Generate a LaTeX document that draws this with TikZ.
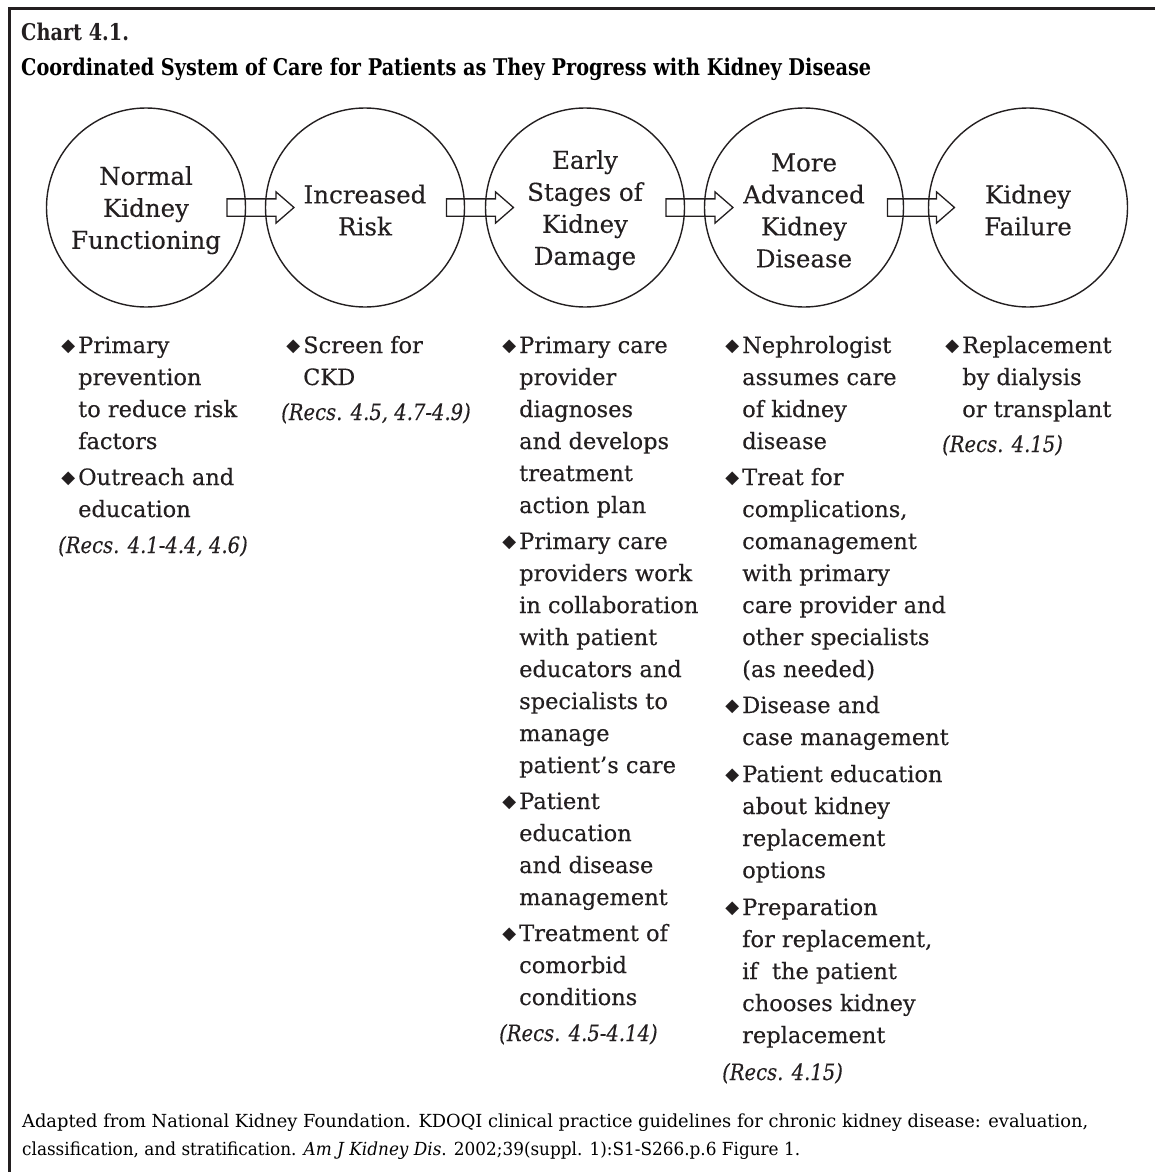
\documentclass[tikz,border=0pt]{standalone}
\usepackage{fontspec}
\usepackage{graphicx}
\setmainfont{DejaVu Serif}[UprightFeatures={FakeBold=0.3},ItalicFeatures={FakeBold=0.3}]
\newfontfamily\fnfont{DejaVu Serif}
\newfontfamily\symf{DejaVu Sans}
\usetikzlibrary{shapes.arrows,calc}
\definecolor{ink}{RGB}{35,31,32}
\newcommand{\bul}{\llap{\raisebox{1.5pt}{\symf\fontsize{18}{18}\selectfont ◆}\hspace{3pt}}}
\newcommand{\rec}[1]{\hspace*{-20pt}\scalebox{0.87}[1]{\textit{#1}}}
\newcommand{\up}{\rule{0pt}{24pt}}
\newsavebox\tlbox
\newsavebox\fnbox
\newsavebox\fnboxb
\begin{document}
\sbox\tlbox{\fontsize{23}{23}\selectfont\bfseries Coordinated System of Care for Patients as They Progress with Kidney Disease}%
\sbox\fnbox{\fnfont\fontsize{18}{18}\selectfont Adapted from National Kidney Foundation. KDOQI clinical practice guidelines for chronic kidney disease: evaluation,}%
\sbox\fnboxb{\fnfont\fontsize{18}{18}\selectfont classification, and stratification. \textit{Am J Kidney Dis}. 2002;39(suppl. 1):S1-S266.p.6 Figure 1.}%
\pgfmathsetmacro\tsx{850/\wd\tlbox}%
\pgfmathsetmacro\fsx{1066/\wd\fnbox}%
\pgfmathsetmacro\fsxb{778/\wd\fnboxb}%
\begin{tikzpicture}[x=1pt,y=-1pt,
  circ/.style={draw=ink, circle, minimum size=199pt, inner sep=0pt, line width=1.4pt,
    font=\fontsize{24.5}{32}\selectfont, align=center, text=ink},
  flow/.style={single arrow, draw=ink, line width=1.3pt, minimum height=67pt,
    single arrow head extend=7pt, single arrow tip angle=82, inner xsep=0pt,
    inner ysep=8pt, text height=0pt, text depth=0pt},
  col/.style={anchor=base west, inner sep=0pt, align=left, text=ink,
    font=\fontsize{22.5}{32}\selectfont},
  plain/.style={anchor=base west, inner sep=0pt, text=ink}]
\useasboundingbox (0,0) rectangle (1155,1172);
% frame
\draw[ink, line width=3pt] (9.5,1172) -- (9.5,8.5) -- (1155,8.5);
% title
\node[plain] (t1) at (21,41) {\scalebox{\tsx}[1]{\fontsize{23}{23}\selectfont\bfseries Chart 4.1.}};
\node[plain] (t2) at (21,75) {\scalebox{\tsx}[1]{\usebox\tlbox}};
% circles
\node[circ] (c1) at (146,207.5) {\up Normal\\Kidney\\Functioning};
\node[circ] (c2) at (365,207.5) {\up Increased\\Risk};
\node[circ] (c3) at (585,207.5) {\up Early\\Stages of\\Kidney\\Damage};
\node[circ] (c4) at (804,207.5) {\up More\\Advanced\\Kidney\\Disease};
\node[circ] (c5) at (1028,207.5) {\up Kidney\\Failure};
% arrows
\node[flow] (a1) at ($(c1)!0.5!(c2)$) {};
\node[flow] (a2) at ($(c2)!0.5!(c3)$) {};
\node[flow] (a3) at ($(c3)!0.5!(c4)$) {};
\node[flow] (a4) at ($(c4)!0.5!(c5)$) {};
% columns (anchored at the baseline of their last line)
\node[col] (l1) at (78,553) {\bul Primary\\prevention\\to reduce risk\\factors\\[4pt]\bul Outreach and\\education\\[4pt]\rec{(Recs. 4.1-4.4, 4.6)}};
\node[col] (l2) at (303,420) {\bul Screen for\\CKD\\[3pt]\hspace*{-2pt}\rec{(Recs. 4.5, 4.7-4.9)}};
\node[col] (l3) at (519,1041) {\bul Primary care\\provider\\diagnoses\\and develops\\treatment\\action plan\\[4pt]%
\bul Primary care\\providers work\\in collaboration\\with patient\\educators and\\specialists to\\manage\\patient’s care\\[4pt]%
\bul Patient\\education\\and disease\\management\\[4pt]%
\bul Treatment of\\comorbid\\conditions\\[4pt]%
\rec{(Recs. 4.5-4.14)}};
\node[col] (l4) at (742,1080) {\bul Nephrologist\\assumes care\\of kidney\\disease\\[4pt]%
\bul Treat for\\complications,\\comanagement\\with primary\\care provider and\\other specialists\\(as needed)\\[4pt]%
\bul Disease and\\case management\\[5pt]%
\bul Patient education\\about kidney\\replacement\\options\\[5pt]%
\bul Preparation\\for replacement,\\if\ \ the patient\\chooses kidney\\replacement\\[5pt]%
\rec{(Recs. 4.15)}};
\node[col] (l5) at (962,452) {\bul Replacement\\by dialysis\\or transplant\\[3pt]\rec{(Recs. 4.15)}};
% footnote
\node[plain] (f1) at (22,1127) {\scalebox{\fsx}[1]{\usebox\fnbox}};
\node[plain] (f2) at (22,1155) {\scalebox{\fsxb}[1]{\usebox\fnboxb}};
\end{tikzpicture}
\end{document}
